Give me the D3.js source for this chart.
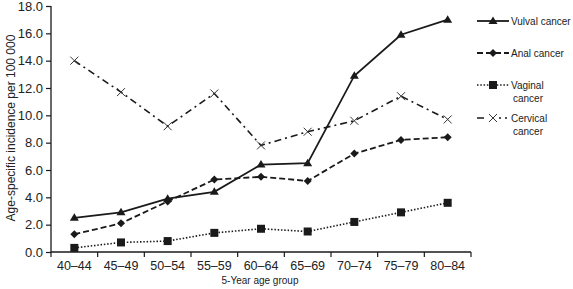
<!DOCTYPE html>
<html><head><meta charset="utf-8">
<script src="https://cdn.jsdelivr.net/npm/d3@7"></script>
<style>body{margin:0;background:#fff}text{font-family:"Liberation Sans",Arial,sans-serif;fill:#222}</style>
</head><body><svg id="c" width="573" height="289"></svg>
<script>
const categories = ["40–44","45–49","50–54","55–59","60–64","65–69","70–74","75–79","80–84"];
const vulval = [2.5, 2.9, 3.9, 4.4, 6.4, 6.5, 12.9, 15.9, 17.0];
const anal = [1.3, 2.1, 3.7, 5.3, 5.5, 5.2, 7.2, 8.2, 8.4];
const vaginal = [0.3, 0.7, 0.8, 1.4, 1.7, 1.5, 2.2, 2.9, 3.6];
const cervical = [14.0, 11.7, 9.2, 11.6, 7.8, 8.8, 9.6, 11.4, 9.7];
const yTicks = [0,2,4,6,8,10,12,14,16,18];

const svg = d3.select("#c");
const x = d3.scaleBand().domain(categories).range([51, 471]);
const y = d3.scaleLinear().domain([0, 18]).range([252, 6]);
const col = "#1a1a1a";

const xa = svg.append("g").attr("transform","translate(0,252)")
  .call(d3.axisBottom(x).tickSize(0).tickPadding(9));
xa.select(".domain").remove();
xa.selectAll("text").attr("font-size",12.5).attr("fill","#222").attr("font-family","Liberation Sans, Arial, sans-serif");
svg.append("line").attr("x1",51).attr("x2",471).attr("y1",252).attr("y2",252).attr("stroke",col).attr("stroke-width",1.3);
const bounds = categories.map(c => x(c)).concat([x(categories[categories.length-1]) + x.bandwidth()]);
svg.selectAll(".xt").data(bounds).join("line").attr("x1",d=>d).attr("x2",d=>d).attr("y1",252).attr("y2",257).attr("stroke",col).attr("stroke-width",1.2);

const ya = svg.append("g").attr("transform","translate(51,0)")
  .call(d3.axisLeft(y).tickValues(yTicks).tickFormat(d3.format(".1f")).tickSize(5).tickPadding(3));
ya.select(".domain").attr("stroke",col).attr("stroke-width",1.3).attr("d","M0,6V252");
ya.selectAll(".tick line").attr("stroke",col).attr("stroke-width",1.2);
ya.selectAll("text").attr("font-size",13).attr("fill","#222").attr("font-family","Liberation Sans, Arial, sans-serif");

svg.append("text").attr("x",260).attr("y",284).attr("text-anchor","middle").attr("font-size",10).text("5-Year age group");
svg.append("text").attr("transform","translate(15,128) rotate(-90)").attr("text-anchor","middle").attr("font-size",12).text("Age-specific incidence per 100 000");

const cx = c => x(c) + x.bandwidth()/2;
const series = [
  {name:"vulval", data:vulval, dash:null, w:1.8, marker:"tri"},
  {name:"anal", data:anal, dash:"6,3", w:1.8, marker:"dia"},
  {name:"vaginal", data:vaginal, dash:"1.5,1.8", w:1.6, marker:"sq"},
  {name:"cervical", data:cervical, dash:"7,4,2,4", w:1.6, marker:"x"}
];
const line = d3.line().x((d,i)=>cx(categories[i])).y(d=>y(d));

function marker(g, mx, my, type){
  if(type==="tri") g.append("path").attr("d",`M${mx},${my-4.5}L${mx+4.5},${my+3}L${mx-4.5},${my+3}Z`).attr("fill",col);
  else if(type==="dia") g.append("path").attr("d",`M${mx},${my-4}L${mx+4},${my}L${mx},${my+4}L${mx-4},${my}Z`).attr("fill",col);
  else if(type==="sq") g.append("rect").attr("x",mx-4).attr("y",my-4).attr("width",8).attr("height",8).attr("fill",col);
  else g.append("path").attr("d",`M${mx-4},${my-4}L${mx+4},${my+4}M${mx+4},${my-4}L${mx-4},${my+4}`).attr("stroke","#333").attr("stroke-width",1).attr("fill","none");
}

series.forEach(s=>{
  svg.append("path").datum(s.data).attr("d",line).attr("fill","none").attr("stroke",col)
    .attr("stroke-width",s.w).attr("stroke-dasharray",s.dash);
  const g = svg.append("g");
  s.data.forEach((v,i)=>marker(g, cx(categories[i]), y(v), s.marker));
});

const legend = [
  {s:series[0], lines:["Vulval cancer"], ly:21},
  {s:series[1], lines:["Anal cancer"], ly:53},
  {s:series[2], lines:["Vaginal","cancer"], ly:85},
  {s:series[3], lines:["Cervical","cancer"], ly:118}
];
legend.forEach(l=>{
  svg.append("line").attr("x1",477).attr("x2",509).attr("y1",l.ly).attr("y2",l.ly)
    .attr("stroke",col).attr("stroke-width",l.s.w).attr("stroke-dasharray",l.s.dash);
  const g = svg.append("g");
  if(l.s.marker==="x"){
    g.append("rect").attr("x",487).attr("y",l.ly-5).attr("width",12).attr("height",10).attr("fill","#fff");
  }
  marker(g, 493, l.ly, l.s.marker);
  l.lines.forEach((t,i)=>{
    svg.append("text").attr("x", i===0?511:513).attr("y", l.ly+4+i*13).attr("font-size",10).text(t);
  });
});
</script></body></html>
